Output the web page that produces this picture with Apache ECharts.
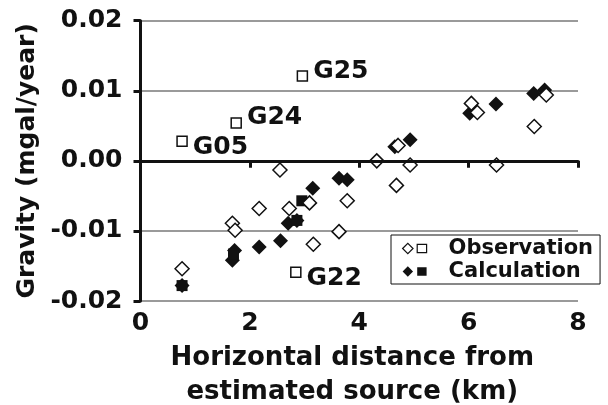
<!DOCTYPE html>
<html>
<head>
<meta charset="utf-8">
<script src="https://cdn.jsdelivr.net/npm/echarts@6/dist/echarts.min.js"></script>
<style>
  html, body { margin: 0; padding: 0; background: #fff; }
  #chart { width: 608px; height: 405px; }
</style>
</head>
<body>
<div id="chart"></div>
<script>
  // --- DATA ---
  const obsX = [0.76, 1.68, 1.73, 2.17, 2.55, 2.72, 3.09, 3.16, 3.63, 3.78, 4.32, 4.71, 4.68, 4.93, 6.05, 6.16, 6.51, 7.20, 7.42];
  const obsY = [-0.0154, -0.0089, -0.0099, -0.0068, -0.0013, -0.0068, -0.0060, -0.0119, -0.0101, -0.0057, 0.0000, 0.0022, -0.0035, -0.0006, 0.0082, 0.0069, -0.0006, 0.0049, 0.0094];

  const calcX = [0.76, 1.68, 1.72, 2.17, 2.56, 2.70, 2.86, 3.15, 3.63, 3.78, 4.65, 4.93, 6.02, 6.50, 7.19, 7.39];
  const calcY = [-0.0178, -0.0142, -0.0128, -0.0123, -0.0114, -0.0089, -0.0085, -0.0039, -0.0025, -0.0027, 0.0020, 0.0030, 0.0068, 0.0081, 0.0096, 0.0101];

  const stations = ['G05', 'G24', 'G25', 'G22'];
  const stationObsX = [0.76, 1.75, 2.96, 2.84];
  const stationObsY = [0.0028, 0.0054, 0.0121, -0.0159];
  const stationCalcX = [0.76, 1.70, 2.95, 2.86];
  const stationCalcY = [-0.0178, -0.0133, -0.0057, -0.0085];

  const xTicks = [0, 2, 4, 6, 8];
  const yTicks = [-0.02, -0.01, 0.00, 0.01, 0.02];

  // --- CHART ---
  const FONT = 'DejaVu Sans';
  const INK = '#111';
  // small nudges so the station names sit like in the figure
  const labelNudge = { G05: [0, 6], G24: [0, -6], G25: [0, -5], G22: [0, 6] };
  const bothIcon = 'path://M0,5L5,0L10,5L5,10Z M14,1L23,1L23,9L14,9Z';

  const pairs = (xs, ys) => xs.map((x, i) => [x, ys[i]]);

  const chart = echarts.init(document.getElementById('chart'), null, { renderer: 'canvas' });

  chart.setOption({
    animation: false,
    textStyle: { fontFamily: FONT },
    grid: { left: 140.5, right: 30, top: 20.7, bottom: 104, containLabel: false, outerBoundsMode: 'none' },
    legend: {
      orient: 'vertical',
      left: 391, top: 235,
      padding: [3, 7, 2, 11],
      itemGap: 2,
      itemWidth: 24, itemHeight: 11,
      backgroundColor: '#fff',
      borderColor: INK, borderWidth: 1,
      selectedMode: false,
      // legend text gap is fixed, so push the words right with padding
      textStyle: { fontFamily: FONT, fontWeight: 'bold', fontSize: 21, color: INK, padding: [0, 0, 0, 17] },
      data: [
        { name: 'Observation', icon: bothIcon, itemStyle: { color: '#fff', borderColor: INK, borderWidth: 1.2 } },
        { name: 'Calculation', icon: bothIcon, itemStyle: { color: INK, borderColor: INK, borderWidth: 0 } }
      ]
    },
    xAxis: {
      type: 'value',
      min: xTicks[0], max: xTicks[xTicks.length - 1], interval: 2,
      name: 'Horizontal distance from\nestimated source (km)',
      nameLocation: 'middle', nameGap: 37,
      nameTextStyle: { fontFamily: FONT, fontWeight: 'bold', fontSize: 26, color: INK, lineHeight: 34, padding: [0, 14, 0, 0] },
      axisLine: { show: true, lineStyle: { color: INK, width: 3 } },
      axisTick: { show: true, inside: false, length: 7, lineStyle: { color: INK, width: 3 } },
      axisLabel: { margin: 10, fontFamily: FONT, fontWeight: 'bold', fontSize: 25, color: INK },
      splitLine: { show: false }
    },
    yAxis: {
      type: 'value',
      min: yTicks[0], max: yTicks[yTicks.length - 1], interval: 0.01,
      name: 'Gravity (mgal/year)',
      nameLocation: 'middle', nameGap: 97, nameRotate: 90,
      nameTextStyle: { fontFamily: FONT, fontWeight: 'bold', fontSize: 25, color: INK },
      axisLine: { show: true, onZero: false, lineStyle: { color: INK, width: 3 } },
      axisTick: { show: true, inside: false, length: 7, lineStyle: { color: INK, width: 3 } },
      axisLabel: {
        margin: 18, fontFamily: FONT, fontWeight: 'bold', fontSize: 25, color: INK,
        formatter: v => v.toFixed(2)
      },
      splitLine: { show: true, lineStyle: { color: '#9a9a9a', width: 2 } }
    },
    series: [
      {
        name: 'Calculation', type: 'scatter',
        symbol: 'diamond', symbolSize: 15,
        itemStyle: { color: INK, borderColor: INK, borderWidth: 0, opacity: 1 },
        data: pairs(calcX, calcY),
        markLine: {
          silent: true, symbol: 'none', label: { show: false },
          lineStyle: { color: INK, width: 3, type: 'solid' },
          data: [{ yAxis: 0 }]
        }
      },
      {
        name: 'Calculation', type: 'scatter',
        symbol: 'rect', symbolSize: 11,
        itemStyle: { color: INK, borderColor: INK, borderWidth: 0, opacity: 1 },
        data: pairs(stationCalcX, stationCalcY)
      },
      {
        name: 'Observation', type: 'scatter',
        symbol: 'diamond', symbolSize: 14,
        itemStyle: { color: '#fff', borderColor: INK, borderWidth: 1.5, opacity: 1 },
        data: pairs(obsX, obsY)
      },
      {
        name: 'Observation', type: 'scatter',
        symbol: 'rect', symbolSize: 10,
        itemStyle: { color: '#fff', borderColor: INK, borderWidth: 1.5, opacity: 1 },
        data: stations.map((s, i) => ({
          name: s,
          value: [stationObsX[i], stationObsY[i]],
          label: { offset: labelNudge[s] }
        })),
        label: {
          show: true, position: 'right', distance: 5,
          formatter: '{b}',
          fontFamily: FONT, fontWeight: 'bold', fontSize: 25, color: INK
        }
      }
    ]
  });
</script>
</body>
</html>
